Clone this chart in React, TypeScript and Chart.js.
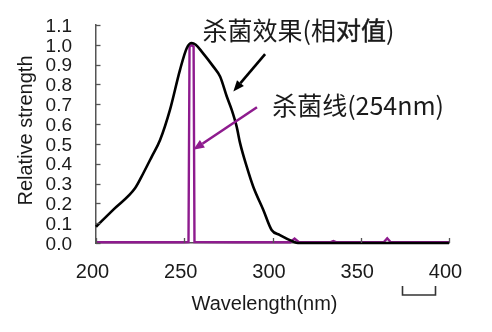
import React, { useEffect, useRef } from 'react';
import { Chart, registerables } from 'chart.js';

Chart.register(...registerables);

// Germicidal effectiveness curve (relative value)
const effectWl = [200, 210, 222.1, 226.8, 231.6, 236.3, 241.9, 247.6, 251.4, 254.2, 256.5, 259.9, 266.5, 270.3, 274.1, 276.9, 279.7, 281.6, 285.4, 289.1, 294.8, 299.5, 304.2, 311.8, 314.4, 340, 370, 400];
const effectVal = [0.082, 0.17, 0.276, 0.352, 0.436, 0.52, 0.672, 0.874, 0.983, 1.009, 1.0, 0.966, 0.89, 0.84, 0.739, 0.672, 0.587, 0.505, 0.385, 0.284, 0.167, 0.066, 0.04, 0.007, 0.0, 0.0, 0.0, 0.0];

// Germicidal lamp line spectrum (254nm)
const lampWl = [200, 230, 250, 252.4, 253.0, 254.2, 255.3, 255.8, 280, 310, 312.5, 315, 333, 334.5, 336, 363, 365, 367, 400];
const lampVal = [0.004, 0.004, 0.004, 0.005, 0.99, 1.0, 0.99, 0.005, 0.004, 0.004, 0.022, 0.004, 0.004, 0.01, 0.004, 0.004, 0.024, 0.004, 0.004];

const xTicks = [200, 250, 300, 350, 400];
const yTicks = [0, 0.1, 0.2, 0.3, 0.4, 0.5, 0.6, 0.7, 0.8, 0.9, 1.0, 1.1];

const xTitle = 'Wavelength(nm)';
const yTitle = 'Relative strength';
const effectLabelParts = [
  { text: '杀菌效果(相', heavy: false },
  { text: '对值', heavy: true },
  { text: ')', heavy: false },
];
const lampLabel = '杀菌线(254nm)';

// annotation anchors in data space [wavelength, value]
const effectLabelAt = [260.3, 1.072];
const lampLabelAt = [299.8, 0.694];
const effectArrow = [[295.8, 0.953], [277.8, 0.764]];
const lampArrow = [[291.2, 0.685], [255.1, 0.47]];
const bracketWl = [373.4, 392.1];

const BLACK = '#000000';
const PURPLE = '#8e1b8e';
const AXIS = '#555555';
const TEXT = '#1a1a1a';
const CJK = '"Noto Sans CJK SC", "Noto Sans CJK JP", sans-serif';

function drawArrow(ctx: CanvasRenderingContext2D, x1: number, y1: number, x2: number, y2: number, color: string) {
  const ang = Math.atan2(y2 - y1, x2 - x1);
  const head = 11;
  const half = 4.5;
  const bx = x2 - head * Math.cos(ang);
  const by = y2 - head * Math.sin(ang);
  ctx.save();
  ctx.strokeStyle = color;
  ctx.fillStyle = color;
  ctx.lineWidth = 2.6;
  ctx.beginPath();
  ctx.moveTo(x1, y1);
  ctx.lineTo(bx, by);
  ctx.stroke();
  ctx.beginPath();
  ctx.moveTo(x2, y2);
  ctx.lineTo(bx + half * Math.sin(ang), by - half * Math.cos(ang));
  ctx.lineTo(bx - half * Math.sin(ang), by + half * Math.cos(ang));
  ctx.closePath();
  ctx.fill();
  ctx.restore();
}

const decorPlugin = {
  id: 'decor',
  afterDatasetsDraw(chart: any) {
    const { ctx, chartArea, scales } = chart;
    const xs = scales.x;
    const ys = scales.y;
    ctx.save();

    // inward tick marks
    ctx.strokeStyle = AXIS;
    ctx.lineWidth = 1.3;
    ys.ticks.forEach((t: any) => {
      const py = Math.round(ys.getPixelForValue(t.value)) + 0.5;
      ctx.beginPath();
      ctx.moveTo(chartArea.left, py);
      ctx.lineTo(chartArea.left + 4.5, py);
      ctx.stroke();
    });
    xs.ticks.forEach((t: any) => {
      const px = Math.round(xs.getPixelForValue(t.value)) + 0.5;
      ctx.beginPath();
      ctx.moveTo(px, chartArea.bottom);
      ctx.lineTo(px, chartArea.bottom - 5);
      ctx.stroke();
    });

    // arrows
    drawArrow(ctx, xs.getPixelForValue(effectArrow[0][0]), ys.getPixelForValue(effectArrow[0][1]),
      xs.getPixelForValue(effectArrow[1][0]), ys.getPixelForValue(effectArrow[1][1]), BLACK);
    drawArrow(ctx, xs.getPixelForValue(lampArrow[0][0]), ys.getPixelForValue(lampArrow[0][1]),
      xs.getPixelForValue(lampArrow[1][0]), ys.getPixelForValue(lampArrow[1][1]), PURPLE);

    // labels
    ctx.fillStyle = TEXT;
    ctx.strokeStyle = TEXT;
    ctx.textBaseline = 'middle';
    ctx.textAlign = 'left';
    ctx.font = '25px ' + CJK;
    let lx = xs.getPixelForValue(effectLabelAt[0]);
    const ly = ys.getPixelForValue(effectLabelAt[1]);
    effectLabelParts.forEach((p) => {
      ctx.fillText(p.text, lx, ly);
      if (p.heavy) {
        ctx.lineWidth = 0.45;
        ctx.strokeText(p.text, lx, ly);
      }
      lx += ctx.measureText(p.text).width;
    });
    ctx.fillText(lampLabel, xs.getPixelForValue(lampLabelAt[0]), ys.getPixelForValue(lampLabelAt[1]));

    // axis titles
    ctx.font = '20px "Liberation Sans", Arial, sans-serif';
    ctx.textAlign = 'center';
    ctx.textBaseline = 'alphabetic';
    ctx.fillText(xTitle, 264.5, 310);
    ctx.save();
    ctx.translate(32, 130.5);
    ctx.rotate(-Math.PI / 2);
    ctx.fillText(yTitle, 0, 0);
    ctx.restore();

    // small scale bracket under the axis
    const b1 = Math.round(xs.getPixelForValue(bracketWl[0])) + 0.5;
    const b2 = Math.round(xs.getPixelForValue(bracketWl[1])) + 0.5;
    const top = chartArea.bottom + 43;
    const bot = chartArea.bottom + 52;
    ctx.strokeStyle = '#333333';
    ctx.lineWidth = 1.6;
    ctx.beginPath();
    ctx.moveTo(b1, top);
    ctx.lineTo(b1, bot);
    ctx.lineTo(b2, bot);
    ctx.lineTo(b2, top);
    ctx.stroke();

    ctx.restore();
  },
};

export default function App() {
  const ref = useRef<HTMLCanvasElement | null>(null);
  useEffect(() => {
    if (!ref.current) return;
    const chart = new Chart(ref.current, {
      type: 'line',
      data: {
        datasets: [
          {
            label: 'effect',
            data: effectWl.map((w, i) => ({ x: w, y: effectVal[i] })),
            borderColor: BLACK,
            borderWidth: 2.6,
            pointRadius: 0,
            fill: false,
            cubicInterpolationMode: 'monotone',
            clip: 6,
          },
          {
            label: 'lamp',
            data: lampWl.map((w, i) => ({ x: w, y: lampVal[i] })),
            borderColor: PURPLE,
            borderWidth: 2.4,
            pointRadius: 0,
            fill: false,
            tension: 0,
            clip: 6,
          },
        ],
      },
      options: {
        animation: false,
        responsive: false,
        events: [],
        layout: { padding: { left: 0, right: 43, top: 25, bottom: 0 } },
        plugins: { legend: { display: false }, tooltip: { enabled: false }, title: { display: false } },
        scales: {
          x: {
            type: 'linear',
            min: 200,
            max: 400,
            afterBuildTicks: (s: any) => { s.ticks = xTicks.map((v) => ({ value: v })); },
            afterFit: (s: any) => { s.height = 89; s.paddingLeft = 0; s.paddingRight = 0; },
            grid: { display: true, drawOnChartArea: false, drawTicks: false },
            border: { display: true, color: AXIS, width: 1.5 },
            ticks: {
              color: TEXT,
              padding: 17,
              labelOffset: -3.5,
              maxRotation: 0,
              autoSkip: false,
              font: { family: '"Liberation Sans Narrow", "Liberation Sans", sans-serif', size: 20 },
              callback: (v: any) => String(v),
            },
          },
          y: {
            type: 'linear',
            min: 0,
            max: 1.1,
            afterBuildTicks: (s: any) => { s.ticks = yTicks.map((v) => ({ value: v })); },
            afterFit: (s: any) => { s.width = 96; s.paddingTop = 0; s.paddingBottom = 0; },
            grid: { display: true, drawOnChartArea: false, drawTicks: false },
            border: { display: true, color: AXIS, width: 1.5 },
            ticks: {
              color: TEXT,
              padding: 24,
              labelOffset: 1.5,
              autoSkip: false,
              font: { family: '"Liberation Sans Narrow", "Liberation Sans", sans-serif', size: 19 },
              callback: (v: any) => Number(v).toFixed(1),
            },
          },
        },
      },
      plugins: [decorPlugin],
    } as any);
    return () => chart.destroy();
  }, []);
  return (
    <div style={{ position: 'fixed', left: 0, top: 0, width: 492, height: 332, background: '#fff' }}>
      <canvas ref={ref} width={492} height={332} style={{ display: 'block', width: 492, height: 332 }} />
    </div>
  );
}
